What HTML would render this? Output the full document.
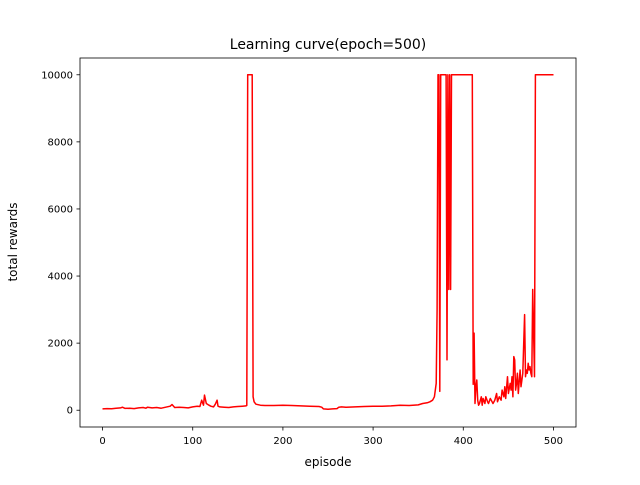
<!DOCTYPE html>
<html><head><meta charset="utf-8"><style>
body{margin:0;background:#fff;}
svg text{font-family:"DejaVu Sans","Liberation Sans",sans-serif;fill:#000;}
</style></head><body>
<svg id="chart" width="640" height="480" xmlns="http://www.w3.org/2000/svg">
<rect width="640" height="480" fill="#fff"/>
<text x="328" y="49" font-size="14" text-anchor="middle">Learning curve(epoch=500)</text>
<g id="plot"></g>
<rect x="80" y="58" width="496" height="369" fill="none" stroke="#000" stroke-width="0.8"/>
<text x="328" y="466" font-size="12" text-anchor="middle">episode</text>
<text transform="translate(17,242) rotate(-90)" font-size="12" text-anchor="middle">total rewards</text>
</svg>
<script>
const xTicks=[0,100,200,300,400,500];
const yTicks=[0,2000,4000,6000,8000,10000];
const series=[[0,40],[5,50],[10,45],[15,60],[20,70],[22,90],[25,55],[30,60],[35,50],[40,70],[45,80],[48,60],[50,90],[55,70],[60,80],[65,60],[70,90],[75,120],[77,170],[80,80],[85,90],[90,80],[95,70],[100,100],[105,120],[108,110],[110,300],[112,150],[113,450],[115,200],[118,150],[120,120],[123,100],[125,180],[127,300],[128,120],[130,100],[135,90],[140,80],[145,100],[150,110],[155,120],[159,130],[160,140],[161,10000],[162,10000],[165,10000],[166,10000],[167,400],[168,250],[170,180],[175,150],[180,140],[190,140],[200,150],[210,140],[220,130],[230,120],[240,110],[243,90],[245,40],[250,30],[255,40],[260,50],[262,90],[265,100],[270,90],[280,100],[290,110],[300,120],[310,120],[320,130],[330,150],[340,140],[350,160],[355,200],[360,220],[363,250],[366,300],[368,400],[369,600],[370,800],[371,3000],[372,10000],[373,10000],[374,560],[375,10000],[376,10000],[377,10000],[378,10000],[379,10000],[380,10000],[381,10000],[382,1500],[383,10000],[384,3600],[385,10000],[386,3600],[387,10000],[388,10000],[390,10000],[400,10000],[409,10000],[410,10000],[411,770],[412,2300],[413,200],[414,700],[415,900],[416,300],[417,150],[418,200],[420,400],[421,150],[422,350],[424,200],[425,400],[427,250],[428,200],[430,350],[432,250],[433,200],[435,300],[437,500],[438,250],[440,400],[442,300],[443,600],[445,400],[446,700],[447,350],[449,1000],[450,500],[452,800],[453,600],[454,1000],[455,400],[456,1600],[457,1500],[458,600],[459,800],[460,1100],[461,500],[463,1200],[464,700],[466,1100],[468,2850],[469,1000],[470,1200],[471,1100],[472,1400],[473,1200],[474,1300],[475,1100],[476,1000],[477,3600],[479,1000],[480,10000],[485,10000],[490,10000],[495,10000],[500,10000]];
const episodes=series.map(p=>p[0]);
const rewards=series.map(p=>p[1]);
const X=v=>80+(v+25)*496/550;
const Y=v=>58+(10500-v)*369/11000;
const NS="http://www.w3.org/2000/svg";
const svg=document.getElementById('chart');
const g=document.getElementById('plot');
function mk(t,a){const e=document.createElementNS(NS,t);for(const k in a)e.setAttribute(k,a[k]);return e;}
xTicks.forEach(t=>{
 const l=mk('line',{x1:X(t),x2:X(t),y1:427,y2:430.5,stroke:'#000','stroke-width':0.8});
 
 
 svg.appendChild(l);
 const tx=mk('text',{x:X(t),y:444,'font-size':10,'text-anchor':'middle'});
 tx.textContent=t;
 
 
 svg.appendChild(tx);
});
yTicks.forEach(t=>{
 const l=mk('line',{x1:76.5,x2:80,y1:Y(t),y2:Y(t),stroke:'#000','stroke-width':0.8});
 
 
 svg.appendChild(l);
 const tx=mk('text',{x:73,y:Y(t)+3.5,'font-size':10,'text-anchor':'end'});
 tx.textContent=t;
 
 
 svg.appendChild(tx);
});
const pts=episodes.map((e,i)=>X(e).toFixed(1)+','+Y(rewards[i]).toFixed(1)).join(' ');
const line=mk('polyline',{points:pts,fill:'none',stroke:'#ff0000','stroke-width':1.5,'stroke-linejoin':'round'});


g.appendChild(line);
</script>
</body></html>
